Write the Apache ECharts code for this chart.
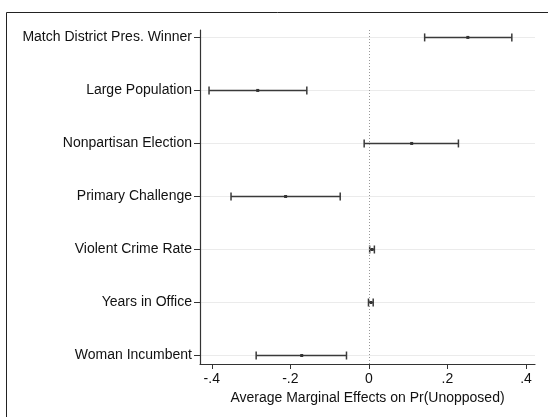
<!DOCTYPE html>
<html>
<head>
<meta charset="utf-8">
<script src="https://cdn.jsdelivr.net/npm/echarts@6/dist/echarts.min.js"></script>
<style>
  html, body { margin: 0; padding: 0; background: #fff; }
  #chart { width: 548px; height: 417px; }
</style>
</head>
<body>
<div id="chart"></div>
<script>
// marginal effects
var categories = ['Match District Pres. Winner', 'Large Population', 'Nonpartisan Election',
  'Primary Challenge', 'Violent Crime Rate', 'Years in Office', 'Woman Incumbent']
var estimates = [0.252, -0.283, 0.109, -0.212, 0.008, 0.005, -0.171]
var lower = [0.142, -0.407, -0.012, -0.351, 0.002, -0.001, -0.287]
var upper = [0.364, -0.158, 0.228, -0.073, 0.014, 0.011, -0.057]
var xTickValues = [-0.4, -0.2, 0, 0.2, 0.4]
var xTickLabels = ['-.4', '-.2', '0', '.2', '.4']
var rowValues = [0, 1, 2, 3, 4, 5, 6]

var font = "'Liberation Sans', Arial, Helvetica, sans-serif"
var chart = echarts.init(document.getElementById('chart'))

var seriesData = categories.map(function(c, i) {
  return [lower[i], estimates[i], upper[i], i]
})

chart.setOption({
  animation: false,
  textStyle: { fontFamily: font },
  graphic: [{
    type: 'rect',
    shape: { x: 6.5, y: 12.5, width: 600, height: 450 },
    style: { fill: 'none', stroke: '#222', lineWidth: 1 },
    silent: true
  }],
  grid: { left: 200, right: 13, top: 30, bottom: 53, containLabel: false },
  xAxis: {
    type: 'value',
    min: -0.43,
    max: 0.423,
    name: 'Average Marginal Effects on Pr(Unopposed)',
    nameLocation: 'middle',
    nameGap: 26,
    nameTextStyle: { fontSize: 14, color: '#111', fontFamily: font },
    axisLine: { show: true, onZero: false, lineStyle: { color: '#333', width: 1.2 } },
    axisTick: { show: true, customValues: xTickValues, length: 5, lineStyle: { color: '#333' } },
    axisLabel: {
      customValues: xTickValues,
      fontSize: 14,
      color: '#111',
      margin: 8,
      formatter: function(v) {
        var i = xTickValues.indexOf(v)
        return i >= 0 ? xTickLabels[i] : ''
      }
    },
    splitLine: { show: false }
  },
  yAxis: {
    type: 'value',
    inverse: true,
    min: -0.14,
    max: 6.16,
    axisLine: { show: true, onZero: false, lineStyle: { color: '#333', width: 1.2 } },
    axisTick: { show: true, customValues: rowValues, length: 6, lineStyle: { color: '#333' } },
    axisLabel: {
      customValues: rowValues,
      fontSize: 14,
      color: '#111',
      margin: 8,
      formatter: function(v) { return categories[Math.round(v)] || '' }
    },
    splitLine: { show: true, lineStyle: { color: '#ebebeb', width: 1 } }
  },
  series: [{
    type: 'custom',
    data: seriesData,
    encode: { x: [0, 1, 2], y: 3 },
    renderItem: function(params, api) {
      var row = api.value(3)
      var lo = api.coord([api.value(0), row])
      var mid = api.coord([api.value(1), row])
      var hi = api.coord([api.value(2), row])
      var capH = 4
      var style = { stroke: '#3a3a3a', lineWidth: 1.5, fill: 'none' }
      return {
        type: 'group',
        children: [
          { type: 'line', shape: { x1: lo[0], y1: lo[1], x2: hi[0], y2: hi[1] }, style: style },
          { type: 'line', shape: { x1: lo[0], y1: lo[1] - capH, x2: lo[0], y2: lo[1] + capH }, style: style },
          { type: 'line', shape: { x1: hi[0], y1: hi[1] - capH, x2: hi[0], y2: hi[1] + capH }, style: style },
          { type: 'rect', shape: { x: mid[0] - 1.5, y: mid[1] - 1.5, width: 3, height: 3 }, style: { fill: '#333' } }
        ]
      }
    },
    markLine: {
      silent: true,
      symbol: 'none',
      label: { show: false },
      lineStyle: { type: [1, 2], color: '#999', width: 1 },
      data: [{ xAxis: 0 }]
    },
    z: 3
  }]
})
</script>
</body>
</html>
